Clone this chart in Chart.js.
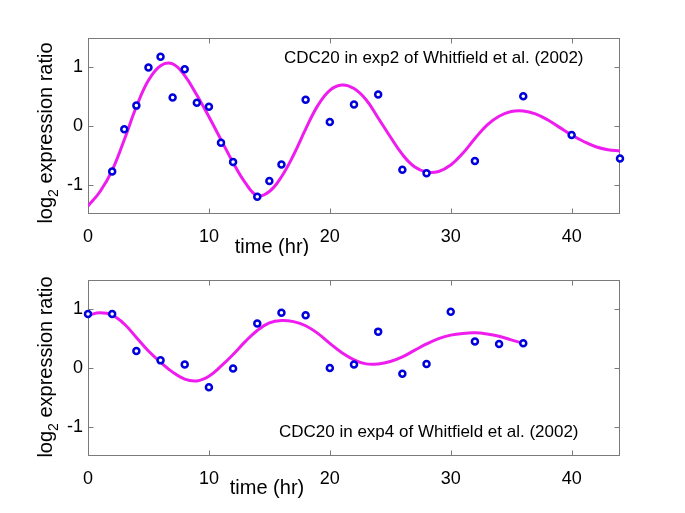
<!DOCTYPE html>
<html>
<head>
<meta charset="utf-8">
<script src="https://cdn.jsdelivr.net/npm/chart.js@4.4.1/dist/chart.umd.min.js"></script>
<style>
  body { margin: 0; background: #fff; }
  #wrap { position: relative; width: 685px; height: 513px; }
  canvas { position: absolute; left: 0; }
</style>
</head>
<body>
<div id="wrap">
  <canvas id="exp2Chart" width="685" height="256" style="top:0"></canvas>
  <canvas id="exp4Chart" width="685" height="257" style="top:256px"></canvas>
</div>
<script>
// exp2: measured log2 ratios
const exp2Hours = [2, 3, 4, 5, 6, 7, 8, 9, 10, 11, 12, 14, 15, 16, 18, 20, 22, 24, 26, 28, 32, 36, 40, 44];
const exp2Ratio = [-0.77, -0.05, 0.35, 1.00, 1.18, 0.49, 0.97, 0.40, 0.33, -0.28, -0.61, -1.20, -0.93, -0.65, 0.45, 0.07, 0.37, 0.54, -0.74, -0.80, -0.59, 0.51, -0.15, -0.55];
// exp2: fitted curve
const exp2FitHours = [0, 1, 2, 3, 4, 5, 6, 7, 8, 9, 10, 11, 12, 13, 14, 15, 16, 17, 18, 19, 20, 21, 22, 23, 24, 25, 26, 27, 28, 29, 30, 31, 32, 33, 34, 35, 36, 37, 38, 39, 40, 41, 42, 43, 44];
const exp2Fit = [-1.36, -1.11, -0.75, -0.23, 0.33, 0.78, 1.03, 1.06, 0.86, 0.53, 0.16, -0.23, -0.62, -0.96, -1.18, -1.11, -0.86, -0.49, -0.05, 0.35, 0.61, 0.70, 0.64, 0.45, 0.14, -0.18, -0.48, -0.69, -0.78, -0.77, -0.66, -0.46, -0.21, 0.02, 0.17, 0.25, 0.26, 0.21, 0.11, -0.02, -0.15, -0.26, -0.35, -0.40, -0.42];

// exp4: measured log2 ratios
const exp4Hours = [0, 2, 4, 6, 8, 10, 12, 14, 16, 18, 20, 22, 24, 26, 28, 30, 32, 34, 36];
const exp4Ratio = [0.92, 0.92, 0.29, 0.13, 0.06, -0.33, -0.01, 0.76, 0.94, 0.90, 0.00, 0.06, 0.62, -0.10, 0.07, 0.96, 0.45, 0.41, 0.42];
// exp4: fitted curve
const exp4FitHours = [0, 1, 2, 3, 4, 5, 6, 7, 8, 9, 10, 11, 12, 13, 14, 15, 16, 17, 18, 19, 20, 21, 22, 23, 24, 25, 26, 27, 28, 29, 30, 31, 32, 33, 34, 35, 36];
const exp4Fit = [0.90, 0.94, 0.90, 0.75, 0.52, 0.29, 0.10, -0.07, -0.19, -0.22, -0.14, 0.03, 0.23, 0.45, 0.64, 0.77, 0.81, 0.79, 0.72, 0.59, 0.42, 0.26, 0.14, 0.07, 0.07, 0.11, 0.19, 0.30, 0.41, 0.50, 0.56, 0.59, 0.60, 0.58, 0.54, 0.48, 0.42];

const xTicks = [0, 10, 20, 30, 40];
const yTicks = [-1, 0, 1];

document.addEventListener('DOMContentLoaded', () => {
    const FONT = '"Liberation Sans", Arial, sans-serif';
    const axisColor = '#7a7a7a';
    const dotColor = '#0000dd';
    const fitColor = '#ee1cee';

    const toXY = (xs, ys) => xs.map((x, i) => ({ x: x, y: ys[i] }));

    // box with inward ticks, like matlab axes
    const framePlugin = {
        id: 'frame',
        beforeDatasetsDraw(chart) {
            const { ctx, chartArea: a, scales: { x, y } } = chart;
            const L = Math.round(a.left) + 0.5, R = Math.round(a.right) - 0.5;
            const T = Math.round(a.top) + 0.5, B = Math.round(a.bottom) - 0.5;
            ctx.save();
            ctx.strokeStyle = axisColor;
            ctx.lineWidth = 1;
            ctx.strokeRect(L, T, R - L, B - T);
            ctx.beginPath();
            xTicks.forEach(v => {
                const px = Math.round(x.getPixelForValue(v)) + 0.5;
                ctx.moveTo(px, B); ctx.lineTo(px, B - 5);
                ctx.moveTo(px, T); ctx.lineTo(px, T + 5);
            });
            yTicks.forEach(v => {
                const py = Math.round(y.getPixelForValue(v)) + 0.5;
                ctx.moveTo(L, py); ctx.lineTo(L + 5, py);
                ctx.moveTo(R, py); ctx.lineTo(R - 5, py);
            });
            ctx.stroke();
            ctx.restore();
        }
    };

    // labels and the note inside the plot
    const textPlugin = {
        id: 'texts',
        afterDraw(chart, args, opts) {
            const ctx = chart.ctx;
            ctx.save();
            ctx.fillStyle = '#000';
            ctx.textBaseline = 'alphabetic';

            ctx.font = '17px ' + FONT;
            ctx.textAlign = 'left';
            ctx.fillText(opts.note, opts.noteX, opts.noteY);

            ctx.font = '20px ' + FONT;
            ctx.textAlign = 'center';
            ctx.fillText('time (hr)', opts.xLabelX, opts.xLabelY);

            // y label with subscript
            ctx.translate(opts.yLabelX, opts.yLabelY);
            ctx.rotate(-Math.PI / 2);
            ctx.textAlign = 'left';
            ctx.font = '20px ' + FONT;
            const w1 = ctx.measureText('log').width;
            const w3 = ctx.measureText(' expression ratio').width;
            ctx.font = '14px ' + FONT;
            const w2 = ctx.measureText('2').width;
            let start = -(w1 + w2 + w3) / 2;
            ctx.font = '20px ' + FONT;
            ctx.fillText('log', start, 0);
            ctx.font = '14px ' + FONT;
            ctx.fillText('2', start + w1, 6);
            ctx.font = '20px ' + FONT;
            ctx.fillText(' expression ratio', start + w1 + w2, 0);
            ctx.restore();
        }
    };

    function makeOptions(canvasH, areaTop, areaBottom, texts) {
        return {
            responsive: false,
            animation: false,
            events: [],
            layout: { padding: { left: 0, right: 65, top: areaTop, bottom: 0 } },
            plugins: {
                legend: { display: false },
                tooltip: { enabled: false },
                texts: texts
            },
            scales: {
                x: {
                    type: 'linear',
                    min: 0,
                    max: 44,
                    grid: { display: false, drawTicks: false },
                    border: { display: false },
                    afterBuildTicks: s => { s.ticks = xTicks.map(v => ({ value: v })); },
                    afterFit: s => { s.height = canvasH - areaBottom; },
                    ticks: {
                        font: { family: FONT, size: 18 },
                        color: '#000',
                        padding: 12,
                        maxRotation: 0,
                        autoSkip: false
                    }
                },
                y: {
                    type: 'linear',
                    min: -1.5,
                    max: 1.5,
                    grid: { display: false, drawTicks: false },
                    border: { display: false },
                    afterBuildTicks: s => { s.ticks = yTicks.map(v => ({ value: v })); },
                    afterFit: s => { s.width = 88; },
                    ticks: {
                        font: { family: FONT, size: 18 },
                        color: '#000',
                        padding: 5
                    }
                }
            }
        };
    }

    function makeDatasets(hours, ratio, fitHours, fit) {
        return [
            {
                data: toXY(hours, ratio),
                showLine: false,
                pointRadius: 3,
                pointBorderWidth: 2.5,
                pointBackgroundColor: '#fff',
                pointBorderColor: dotColor,
                clip: false
            },
            {
                data: toXY(fitHours, fit),
                showLine: true,
                borderColor: fitColor,
                borderWidth: 3,
                tension: 0.4,
                pointRadius: 0
            }
        ];
    }

    // Render exp2 panel
    new Chart(document.getElementById('exp2Chart'), {
        type: 'scatter',
        data: { datasets: makeDatasets(exp2Hours, exp2Ratio, exp2FitHours, exp2Fit) },
        options: makeOptions(256, 38, 214.4, {
            note: 'CDC20 in exp2 of Whitfield et al. (2002)',
            noteX: 284, noteY: 63,
            xLabelX: 272, xLabelY: 253,
            yLabelX: 52, yLabelY: 133
        }),
        plugins: [framePlugin, textPlugin]
    });

    // Render exp4 panel
    new Chart(document.getElementById('exp4Chart'), {
        type: 'scatter',
        data: { datasets: makeDatasets(exp4Hours, exp4Ratio, exp4FitHours, exp4Fit) },
        options: makeOptions(257, 24, 200, {
            note: 'CDC20 in exp4 of Whitfield et al. (2002)',
            noteX: 279, noteY: 181,
            xLabelX: 267, xLabelY: 238,
            yLabelX: 52, yLabelY: 111
        }),
        plugins: [framePlugin, textPlugin]
    });
});
</script>
</body>
</html>
